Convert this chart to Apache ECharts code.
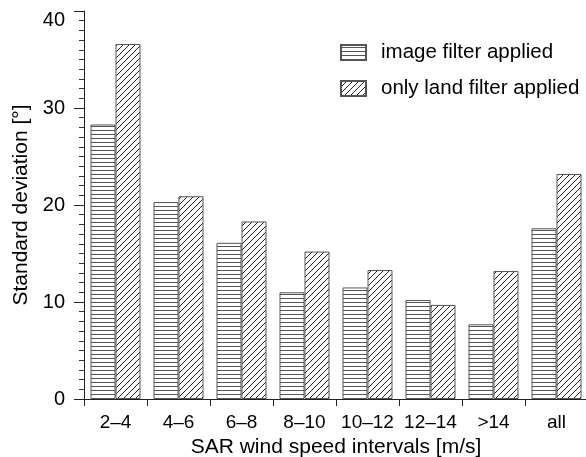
<!DOCTYPE html>
<html>
<head>
<meta charset="utf-8">
<script src="https://cdn.jsdelivr.net/npm/echarts@6/dist/echarts.min.js"></script>
<style>html,body{margin:0;padding:0;background:#fff}#c{width:586px;height:457px}</style>
</head>
<body>
<div id="c"></div>
<script>
const categories = ['2–4', '4–6', '6–8', '8–10', '10–12', '12–14', '>14', 'all'];
const imageFilter = [28.3, 20.3, 16.1, 11.0, 11.5, 10.2, 7.7, 17.6];
const landFilter = [36.6, 20.9, 18.3, 15.2, 13.3, 9.7, 13.2, 23.2];
const seriesNames = ['image filter applied', 'only land filter applied'];
const yTicks = [0, 10, 20, 30, 40];

function hPattern() {
  const c = document.createElement('canvas');
  c.width = 8; c.height = 4;
  const g = c.getContext('2d');
  g.fillStyle = '#fff'; g.fillRect(0, 0, 8, 4);
  g.fillStyle = '#555'; g.fillRect(0, 2, 8, 1);
  return c;
}
function dPattern() {
  const s = 6;
  const c = document.createElement('canvas');
  c.width = s; c.height = s;
  const g = c.getContext('2d');
  g.fillStyle = '#fff'; g.fillRect(0, 0, s, s);
  g.strokeStyle = '#222'; g.lineWidth = 1;
  for (let o = -s; o <= s; o += s) {
    g.beginPath();
    g.moveTo(o, s); g.lineTo(o + s, 0);
    g.stroke();
  }
  return c;
}
const font = 'Liberation Sans, Arial, Helvetica, sans-serif';
const chart = echarts.init(document.getElementById('c'), null, {renderer: 'canvas'});
chart.setOption({
  animation: false,
  backgroundColor: '#fff',
  grid: {left: 84, top: 11, width: 504, height: 388, outerBoundsMode: 'none', containLabel: false},
  legend: {
    orient: 'vertical', left: 335, top: 37,
    icon: 'rect',
    itemWidth: 25, itemHeight: 15, itemGap: 15,
    data: seriesNames,
    textStyle: {fontFamily: font, fontSize: 20.5, color: '#000', padding: [0, 0, 0, 10]}
  },
  xAxis: {
    type: 'category', data: categories,
    name: 'SAR wind speed intervals [m/s]', nameLocation: 'middle', nameGap: 35,
    nameTextStyle: {fontFamily: font, fontSize: 21, color: '#000'},
    axisLine: {lineStyle: {color: '#222', width: 1}},
    axisTick: {show: true, interval: 0, length: 7, lineStyle: {color: '#222'}},
    axisLabel: {fontFamily: font, fontSize: 19, color: '#000', margin: 14, interval: 0, hideOverlap: false}
  },
  yAxis: {
    type: 'value', min: yTicks[0], max: yTicks[yTicks.length - 1], interval: 10,
    name: 'Standard deviation [°]', nameLocation: 'middle', nameGap: 51,
    nameTextStyle: {fontFamily: font, fontSize: 21, color: '#000'},
    axisLine: {show: true, lineStyle: {color: '#222', width: 1}},
    axisTick: {show: true, length: 10, lineStyle: {color: '#222'}},
    minorTick: {show: true, splitNumber: 10, length: 5, lineStyle: {color: '#333'}},
    splitLine: {show: false},
    axisLabel: {
      fontFamily: font, fontSize: 20, color: '#000', margin: 19,
      formatter: v => v === yTicks[yTicks.length - 1] ? '{top|' + v + '}' : String(v),
      rich: {top: {fontFamily: font, fontSize: 20, color: '#000', padding: [18, 0, 0, 0]}}
    }
  },
  series: [
    {
      name: seriesNames[0], type: 'bar', data: imageFilter,
      barWidth: 25, barGap: '0%',
      itemStyle: {color: {image: hPattern(), repeat: 'repeat'}, borderColor: '#555', borderWidth: 1}
    },
    {
      name: seriesNames[1], type: 'bar', data: landFilter,
      barWidth: 25,
      itemStyle: {color: {image: dPattern(), repeat: 'repeat'}, borderColor: '#555', borderWidth: 1}
    }
  ]
});
</script>
</body>
</html>
